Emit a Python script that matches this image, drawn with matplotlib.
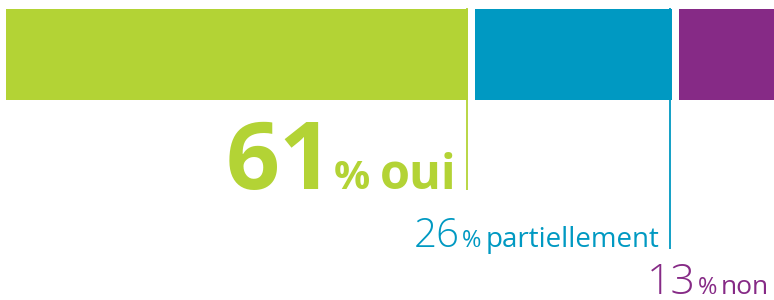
import matplotlib
matplotlib.use("Agg")
import matplotlib.pyplot as plt
import numpy as np

# -- data --
values = [61, 26, 13]
words = ["oui", "partiellement", "non"]
colors = ["#b3d335", "#0099c2", "#862a86"]

# -- style / layout (pixels) --
W, H = 774, 300
k = 7.57          # px per percent
x0 = 6            # left edge of bar
gap = 7           # gap between segments in px
bar_top, bar_bot = 9, 100
baselines = [189, 247, 294]
line_bottom = [190, 249, None]
text_right = [457, 660, 769]
num_size = [68, 29, 31]
pct_size = [29, 17, 17]
word_size = [35, 20, 19]
num_weight = ["bold", 300, 300]
word_weight = ["bold", "normal", "normal"]
spaces = [[0, 10], [2, 5], [2, 4]]
fam = ["Open Sans", "DejaVu Sans"]

fig = plt.figure(figsize=(W / 100, H / 100), dpi=100)
ax = fig.add_axes([0, 0, 1, 1])
ax.set_xlim(0, W)
ax.set_ylim(H, 0)
ax.axis("off")

lefts = x0 + np.concatenate([[0], np.cumsum(values[:-1])]) * k + np.arange(len(values)) * gap
widths = np.array(values) * k
ax.barh((bar_top + bar_bot) / 2, widths, left=lefts, height=bar_bot - bar_top,
        color=colors, linewidth=0)

fig.canvas.draw()
r = fig.canvas.get_renderer()
inv = ax.transData.inverted()

for i, v in enumerate(values):
    right = lefts[i] + widths[i] - 1.2
    if line_bottom[i] is not None:
        ax.plot([right, right], [bar_top - 1, line_bottom[i]], color=colors[i], lw=1.3,
                solid_capstyle="butt")
    y = baselines[i]
    pieces = [(f"{v}", num_size[i], num_weight[i]), ("%", pct_size[i], word_weight[i]),
              (words[i], word_size[i], word_weight[i])]
    x = text_right[i]
    for j in range(len(pieces) - 1, -1, -1):
        s, size, wt = pieces[j]
        t = ax.text(x, y, s, ha="right", va="baseline", fontsize=size,
                    color=colors[i], fontweight=wt, family=fam)
        bb = t.get_window_extent(r)
        left_data = inv.transform((bb.x0, 0))[0]
        if j > 0:
            x = left_data - spaces[i][j - 1]

fig.savefig("out.png", dpi=100)
